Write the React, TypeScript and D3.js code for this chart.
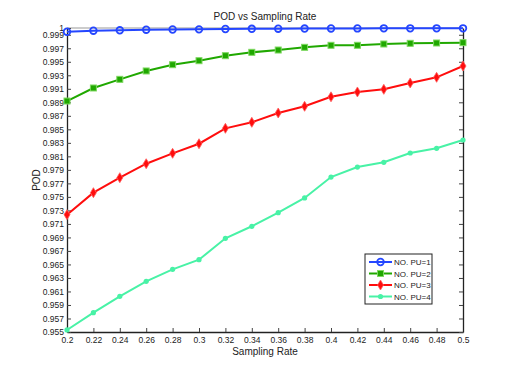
import { useEffect, useRef } from 'react';
import * as d3 from 'd3';

const RATES = [0.2, 0.22, 0.24, 0.26, 0.28, 0.3, 0.32, 0.34, 0.36, 0.38, 0.4, 0.42, 0.44, 0.46, 0.48, 0.5];
const POD_PU1 = [0.99945, 0.9996, 0.99966, 0.99975, 0.99978, 0.9998, 0.99985, 0.99988, 0.9999, 0.99992, 0.99993, 0.99994, 0.99995, 0.99995, 0.99995, 0.99995];
const POD_PU2 = [0.98919, 0.99112, 0.9924, 0.99364, 0.99457, 0.99516, 0.9959, 0.9964, 0.99674, 0.99714, 0.99744, 0.99744, 0.99763, 0.99773, 0.99778, 0.99783];
const POD_PU3 = [0.97237, 0.97562, 0.97784, 0.97991, 0.98145, 0.98287, 0.98515, 0.98604, 0.98742, 0.98841, 0.98981, 0.99053, 0.99092, 0.99186, 0.9927, 0.99437];
const POD_PU4 = [0.9553, 0.95786, 0.96028, 0.9625, 0.96428, 0.9657, 0.96887, 0.97065, 0.97266, 0.97484, 0.97794, 0.97942, 0.98012, 0.9815, 0.98219, 0.98342];
const SERIES_NAMES = ['NO. PU=1', 'NO. PU=2', 'NO. PU=3', 'NO. PU=4'];
const Y_TICKS = [0.955, 0.957, 0.959, 0.961, 0.963, 0.965, 0.967, 0.969, 0.971, 0.973, 0.975, 0.977, 0.979, 0.981, 0.983, 0.985, 0.987, 0.989, 0.991, 0.993, 0.995, 0.997, 0.999, 1];

const STYLES = [
  { color: '#2446ff', marker: 'circle' },
  { color: '#20a800', marker: 'square' },
  { color: '#ff0d0d', marker: 'diamond' },
  { color: '#48f2a6', marker: 'dot' },
];

export default function App() {
  const ref = useRef<SVGSVGElement | null>(null);

  useEffect(() => {
    const svg = d3.select(ref.current);
    svg.selectAll('*').remove();

    const margin = { top: 28, right: 49, bottom: 42, left: 67 };
    const W = 512, H = 374;
    const width = W - margin.left - margin.right;
    const height = H - margin.top - margin.bottom;
    const font = '"Liberation Sans", Arial, sans-serif';

    const x = d3.scaleLinear().domain([0.2, 0.5]).range([0, width]);
    const y = d3.scaleLinear().domain([0.955, 1]).range([height, 0]);

    const g = svg.append('g').attr('transform', `translate(${margin.left},${margin.top})`);

    // top border (grey)
    g.append('line').attr('x1', 0).attr('x2', width).attr('y1', 0).attr('y2', 0)
      .attr('stroke', '#999').attr('stroke-width', 1);

    // axes
    const xAxis = g.append('g').attr('transform', `translate(0,${height})`)
      .call(d3.axisBottom(x).tickValues(RATES).tickSizeInner(-4).tickSizeOuter(0).tickPadding(5)
        .tickFormat(d => String(+d)));
    const yAxis = g.append('g')
      .call(d3.axisLeft(y).tickValues(Y_TICKS).tickSizeInner(-4).tickSizeOuter(0).tickPadding(3)
        .tickFormat(d => String(+d)));
    const yAxisR = g.append('g').attr('transform', `translate(${width},0)`)
      .call(d3.axisRight(y).tickValues(Y_TICKS).tickSizeInner(-4).tickSizeOuter(0).tickFormat(() => ''));

    [xAxis, yAxis, yAxisR].forEach(a => {
      a.select('.domain').attr('stroke', '#222').attr('stroke-width', 1.3);
      a.selectAll('.tick line').attr('stroke', '#444');
      a.selectAll('text').attr('font-family', font).attr('font-size', 8.5).attr('fill', '#222');
    });

    const all = [POD_PU1, POD_PU2, POD_PU3, POD_PU4];
    const line = d3.line<number>().x((_, i) => x(RATES[i])).y(d => y(d));

    const drawMarker = (sel: any, kind: string, color: string, cx: number, cy: number) => {
      if (kind === 'circle') {
        sel.append('circle').attr('cx', cx).attr('cy', cy).attr('r', 3.3)
          .attr('fill', 'none').attr('stroke', color).attr('stroke-width', 1.8);
      } else if (kind === 'square') {
        sel.append('rect').attr('x', cx - 3).attr('y', cy - 3).attr('width', 6).attr('height', 6)
          .attr('fill', color).attr('stroke', '#7ed860').attr('stroke-width', 1);
      } else if (kind === 'diamond') {
        sel.append('path').attr('d', `M${cx},${cy - 5} L${cx + 3},${cy} L${cx},${cy + 5} L${cx - 3},${cy} Z`)
          .attr('fill', color).attr('stroke', '#ff6060').attr('stroke-width', 0.8);
      } else {
        sel.append('circle').attr('cx', cx).attr('cy', cy).attr('r', 2.6).attr('fill', color);
      }
    };

    all.forEach((vals, s) => {
      const st = STYLES[s];
      g.append('path').datum(vals).attr('fill', 'none').attr('stroke', st.color)
        .attr('stroke-width', 2).attr('d', line);
      const mg = g.append('g');
      vals.forEach((v, i) => drawMarker(mg, st.marker, st.color, x(RATES[i]), y(v)));
    });

    // title and labels
    svg.append('text').attr('x', 265).attr('y', 20).attr('text-anchor', 'middle')
      .attr('font-family', font).attr('font-size', 10).attr('fill', '#222').text('POD vs Sampling Rate');
    svg.append('text').attr('x', 265).attr('y', 355).attr('text-anchor', 'middle')
      .attr('font-family', font).attr('font-size', 10).attr('fill', '#222').text('Sampling Rate');
    svg.append('text').attr('transform', 'translate(40,180) rotate(-90)').attr('text-anchor', 'middle')
      .attr('font-family', font).attr('font-size', 10).attr('fill', '#222').text('POD');

    // legend
    const lg = svg.append('g').attr('transform', 'translate(365,254)');
    lg.append('rect').attr('x', 0).attr('y', 0).attr('width', 67).attr('height', 50)
      .attr('fill', '#fff').attr('stroke', '#222').attr('stroke-width', 1);
    SERIES_NAMES.forEach((name, i) => {
      const yy = 8 + i * 11.5;
      const st = STYLES[i];
      lg.append('line').attr('x1', 4).attr('x2', 27).attr('y1', yy).attr('y2', yy)
        .attr('stroke', st.color).attr('stroke-width', 2);
      drawMarker(lg, st.marker, st.color, 15.5, yy);
      lg.append('text').attr('x', 29).attr('y', yy + 3).attr('font-family', font)
        .attr('font-size', 8).attr('fill', '#222').text(name);
    });
  }, []);

  return (
    <svg ref={ref} width={512} height={374}
      style={{ position: 'absolute', left: 0, top: 0, background: '#fff' }} />
  );
}
